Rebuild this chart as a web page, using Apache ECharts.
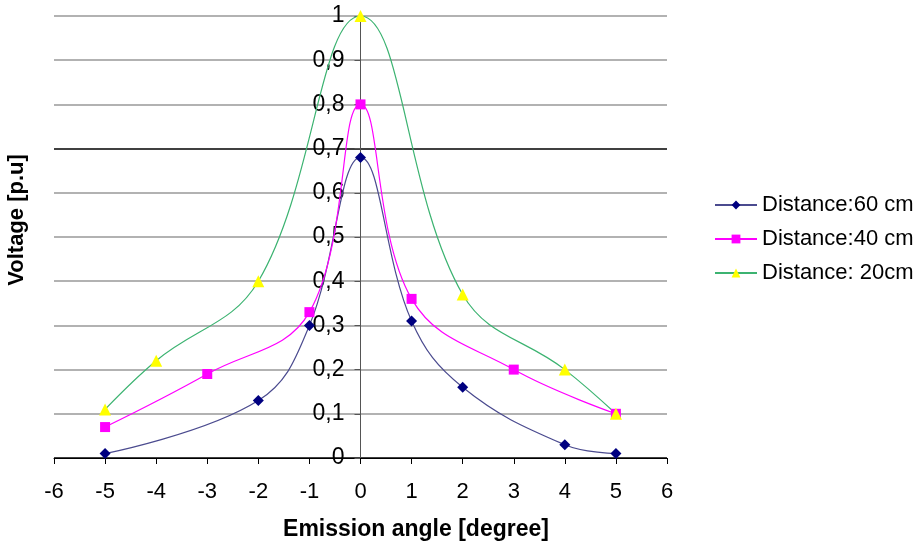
<!DOCTYPE html>
<html><head><meta charset="utf-8">
<script src="https://cdn.jsdelivr.net/npm/echarts@6/dist/echarts.min.js"></script>
<style>html,body{margin:0;padding:0;background:#fff}#c{width:924px;height:551px}</style>
</head><body><div id="c"></div>
<script>
const xTicks = [-6,-5,-4,-3,-2,-1,0,1,2,3,4,5,6];
const seriesNames = ['Distance:60 cm','Distance:40 cm','Distance: 20cm'];
const x60 = [-5,-2,-1,0,1,2,4,5];
const y60 = [0.01,0.13,0.30,0.68,0.31,0.16,0.03,0.01];
const x40 = [-5,-3,-1,0,1,3,5];
const y40 = [0.07,0.19,0.33,0.80,0.36,0.20,0.10];
const x20 = [-5,-4,-2,0,2,4,5];
const y20 = [0.11,0.22,0.40,1.00,0.37,0.20,0.10];

const pair = (xs, ys) => xs.map((x,i)=>[x, ys[i]]);
const font = 'Liberation Sans, Arial, sans-serif';
const gridColors = ['#000','#999','#999','#999','#999','#999','#999','#000','#999','#999','#999'];
const gridLeft = 54, gridRight = 257, W = 924;
const plotW = W - gridLeft - gridRight;
const xMin = xTicks[0], xMax = xTicks[xTicks.length-1];
const yAxisOffset = -plotW * (0 - xMin) / (xMax - xMin);

const chart = echarts.init(document.getElementById('c'));
chart.setOption({
  animation:false,
  backgroundColor:'#fff',
  grid:{left:gridLeft, right:gridRight, top:16, bottom:93},
  legend:{
    orient:'vertical', left:709, top:189, itemWidth:42, itemHeight:11, itemGap:12,
    textStyle:{fontFamily:font, fontSize:22, color:'#000'},
    data: seriesNames
  },
  xAxis:{
    type:'value', min:xMin, max:xMax, interval:1,
    axisLine:{show:true, lineStyle:{color:'#000', width:1}},
    axisTick:{show:true, length:6, lineStyle:{color:'#000'}},
    axisLabel:{fontFamily:font, fontSize:22, color:'#000', margin:23},
    splitLine:{show:false}
  },
  yAxis:{
    type:'value', min:0, max:1, interval:0.1, position:'left', offset:yAxisOffset,
    axisLine:{show:true, onZero:false, lineStyle:{color:'#555', width:1}},
    axisTick:{show:true, length:6, lineStyle:{color:'#555'}},
    axisLabel:{fontFamily:font, fontSize:23, color:'#000', margin:16,
      formatter:v=>String(Math.round(v*10)/10).replace('.',',')},
    splitLine:{show:true, lineStyle:{color:gridColors, width:1.5}}
  },
  graphic:[
    {type:'text', x:416, y:530, style:{text:'Emission angle [degree]', font:'bold 23px '+font, fill:'#000', textAlign:'center', textVerticalAlign:'middle'}},
    {type:'text', x:17, y:220, rotation:Math.PI/2, style:{text:'Voltage [p.u]', font:'bold 22px '+font, fill:'#000', textAlign:'center', textVerticalAlign:'middle'}}
  ],
  series:[
    {name:seriesNames[0], type:'line', smooth:0.4, data:pair(x60,y60),
     symbol:'diamond', symbolSize:11, lineStyle:{color:'#4b4b8f', width:1.2},
     itemStyle:{color:'#000080'}},
    {name:seriesNames[1], type:'line', smooth:0.4, data:pair(x40,y40),
     symbol:'rect', symbolSize:10, lineStyle:{color:'#ff00ff', width:1.2},
     itemStyle:{color:'#ff00ff'}},
    {name:seriesNames[2], type:'line', smooth:0.4, data:pair(x20,y20),
     symbol:'triangle', symbolSize:12, lineStyle:{color:'#3cb371', width:1.2},
     itemStyle:{color:'#ffff00'}}
  ]
});
</script></body></html>
